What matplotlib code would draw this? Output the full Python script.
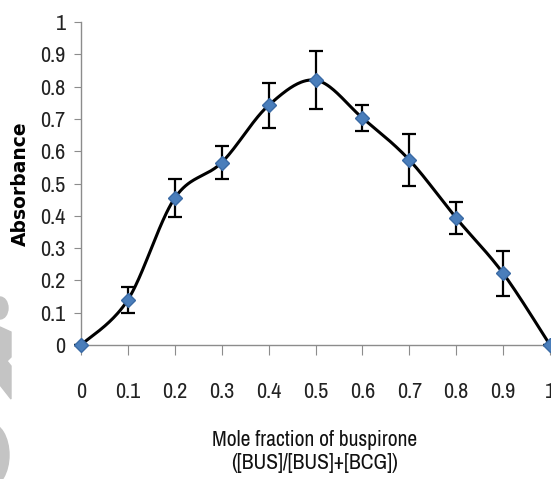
import numpy as np
import matplotlib
matplotlib.use("Agg")
import matplotlib.pyplot as plt
from matplotlib import font_manager
from matplotlib.patches import Ellipse, Polygon

names = sorted({f.name for f in font_manager.fontManager.ttflist})
narrow = [n for n in names if 'Narrow' in n or 'Condensed' in n]

plt.rcParams['font.family'] = narrow + ['DejaVu Sans']

# data
mole_frac = [0, 0.1, 0.2, 0.3, 0.4, 0.5, 0.6, 0.7, 0.8, 0.9, 1.0]
absorbance = [0, 0.14, 0.455, 0.565, 0.742, 0.82, 0.703, 0.573, 0.393, 0.222, 0]
err = [0, 0.04, 0.06, 0.05, 0.07, 0.09, 0.04, 0.08, 0.05, 0.07, 0]
x_ticks = [0, 0.1, 0.2, 0.3, 0.4, 0.5, 0.6, 0.7, 0.8, 0.9, 1]
y_ticks = [0, 0.1, 0.2, 0.3, 0.4, 0.5, 0.6, 0.7, 0.8, 0.9, 1]

W, H = 551, 479


def smooth(xs, ys, n=40):
    # excel-like smoothed line (cardinal bezier)
    p = np.column_stack([xs, ys])
    pts = np.vstack([p[0], p, p[-1]])
    out = []
    for i in range(1, len(pts) - 2):
        p0, p1, p2, p3 = pts[i - 1], pts[i], pts[i + 1], pts[i + 2]
        c1 = p1 + (p2 - p0) / 6
        c2 = p2 - (p3 - p1) / 6
        t = np.linspace(0, 1, n)[:, None]
        seg = (1 - t)**3 * p1 + 3 * (1 - t)**2 * t * c1 + 3 * (1 - t) * t**2 * c2 + t**3 * p2
        out.append(seg)
    out = np.vstack(out)
    return out[:, 0], out[:, 1]


fig = plt.figure(figsize=(W / 100, H / 100), dpi=100)

# faint grey watermark pieces at the left edge (pixel coords from top-left)
wm = '#c4c4c4'
fig.patches.append(Ellipse((0, 1 - 308 / H), 16 / W, 22 / H, color=wm,
                           transform=fig.transFigure, zorder=0))
wedge = [(0, 327), (11, 332), (11, 357), (7, 361), (11, 366), (11, 399), (0, 385)]
fig.patches.append(Polygon([(x / W, 1 - y / H) for x, y in wedge], color=wm,
                           transform=fig.transFigure, zorder=0))
fig.patches.append(Ellipse((-10 / W, 1 - 455 / H), 38 / W, 64 / H, color=wm,
                           transform=fig.transFigure, zorder=0))

ax = fig.add_axes([81 / W, 134 / H, 469 / W, 323 / H])
ax.patch.set_alpha(0)

sx, sy = smooth(mole_frac, absorbance)
ax.plot(sx, sy, color='black', lw=2.2, zorder=2, clip_on=False)
ax.errorbar(mole_frac, absorbance, yerr=err, fmt='none', ecolor='black',
            elinewidth=1.6, capsize=5, capthick=1.6, zorder=3, clip_on=False)
ax.plot(mole_frac, absorbance, 'D', color='#4a7ebb', markeredgecolor='#3a6aa5',
        markersize=7, zorder=4, clip_on=False)

ax.set_xlim(0, 1)
ax.set_ylim(0, 1)
ax.set_xticks(x_ticks)
ax.set_xticklabels([f'{v:g}' for v in x_ticks])
ax.set_yticks(y_ticks)
ax.set_yticklabels([f'{v:g}' for v in y_ticks])

for s in ['top', 'right']:
    ax.spines[s].set_visible(False)
for s in ['left', 'bottom']:
    ax.spines[s].set_color('#8c8c8c')
    ax.spines[s].set_linewidth(1.0)

ax.tick_params(axis='x', direction='out', length=7, color='#8c8c8c',
               labelsize=16, pad=20, labelcolor='#222222')
ax.tick_params(axis='y', direction='out', length=5, color='#8c8c8c',
               labelsize=16, pad=6, labelcolor='#222222')

ax.set_ylabel('Absorbance', family=['DejaVu Sans'],
              fontweight='bold', fontsize=13.5)
ax.yaxis.set_label_coords(-0.108, 0.5)

fig.text(315 / W, 1 - 440 / H, 'Mole fraction of buspirone', ha='center',
         va='center', fontsize=15.5, color='#111111')
fig.text(315 / W, 1 - 463 / H, '([BUS]/[BUS]+[BCG])', ha='center',
         va='center', fontsize=15.5, color='#111111')

fig.savefig('out.png', dpi=100)
